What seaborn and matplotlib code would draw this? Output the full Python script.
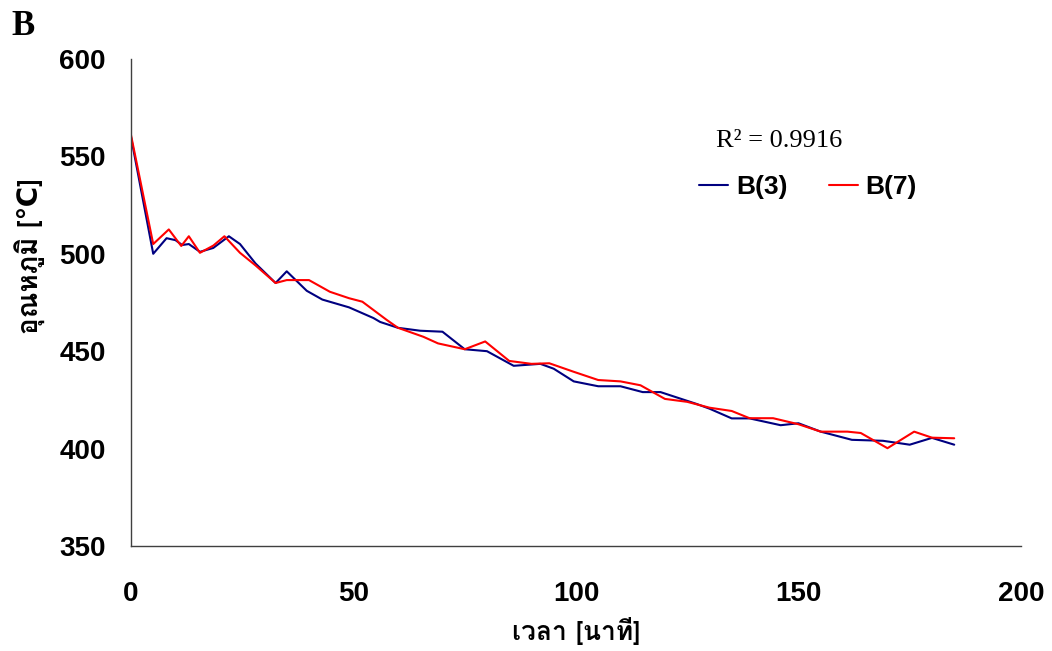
import numpy as np
import pandas as pd
import matplotlib
matplotlib.use("Agg")
import matplotlib.pyplot as plt
from matplotlib import font_manager, ft2font
import seaborn as sns

# Furnace temperature over time for two runs
time_b3 = [0, 5, 8, 10, 11.5, 13, 15.5, 18.5, 22, 24.5, 28, 32.5, 35, 39.5, 43,
           49, 54.5, 56, 60, 65, 70, 75, 80, 86, 92, 95, 99.5, 105, 110, 115,
           119, 127, 130, 135, 139, 146, 150, 155, 162, 169, 175, 180, 185]
temp_b3 = [560, 500, 508, 507, 504.5, 505, 501, 503, 509, 505, 495, 485, 491, 481, 476.5,
           472.5, 467, 465, 462, 460.5, 460, 451, 450, 442.5, 443.5, 441, 434.5, 432, 432, 429,
           429, 423, 420.5, 415.5, 415.5, 412, 413, 408.7, 404.5, 404, 402, 405.5, 402]

time_b7 = [0, 5, 8.5, 11.3, 13, 15.5, 18.5, 21, 24.5, 28, 32.5, 35, 40, 44.7, 49,
           52, 57.5, 60, 65.7, 69, 75, 79.6, 85, 90, 94, 99.4, 105, 110, 114.5,
           120, 125, 130, 135, 139, 144.3, 150, 155, 161, 164, 170, 176, 180, 185]
temp_b7 = [561, 505, 512.5, 504, 509, 500.5, 504.2, 509, 500.5, 494, 485, 486.5, 486.5, 480.5, 477.2,
           475.4, 466, 462, 457.4, 454, 451, 455, 445, 443.5, 443.8, 439.5, 435.2, 434.5, 432.5,
           425.5, 424, 421, 419.3, 415.6, 415.6, 412.5, 408.7, 408.7, 408, 400.2, 408.7, 405.6, 405.3]

series_names = ["B(3)", "B(7)"]
series_colors = ["#000080", "#FF0000"]

x_ticks = [0, 50, 100, 150, 200]
y_ticks = [350, 400, 450, 500, 550, 600]

df = pd.concat([
    pd.DataFrame({"time": time_b3, "temp": temp_b3, "run": series_names[0]}),
    pd.DataFrame({"time": time_b7, "temp": temp_b7, "run": series_names[1]}),
], ignore_index=True)

sns.set_style("white")


def find_thai_font():
    for fe in font_manager.fontManager.ttflist:
        try:
            cmap = ft2font.FT2Font(fe.fname).get_charmap()
        except Exception:
            continue
        if 0x0E2D in cmap and 0x0E19 in cmap:
            return fe.name
    return None


thai = find_thai_font()
families = ["Liberation Sans", "DejaVu Sans"]
if thai:
    families = ["Liberation Sans", thai, "DejaVu Sans"]
plt.rcParams["font.family"] = families
plt.rcParams["axes.unicode_minus"] = False
plt.rcParams["text.color"] = "black"

fig = plt.figure(figsize=(10.52, 6.51), dpi=100)
ax = fig.add_axes([0.1245, 0.1613, 0.846, 0.7481])

sns.lineplot(data=df, x="time", y="temp", hue="run", palette=series_colors,
             hue_order=series_names, linewidth=1.5, ax=ax, sort=False,
             estimator=None)

ax.set_xlim(0, 200)
ax.set_ylim(350, 600)
ax.set_xticks(x_ticks)
ax.set_yticks(y_ticks)
ax.set_xticklabels([str(v) for v in x_ticks], fontsize=20, fontweight="bold", color="black")
ax.set_yticklabels([str(v) for v in y_ticks], fontsize=20, fontweight="bold", color="black")
ax.tick_params(axis="y", direction="out", length=7, width=1, pad=11, color="#404040")
ax.tick_params(axis="x", direction="out", length=8, width=1, pad=17, color="#404040")

for side in ["top", "right"]:
    ax.spines[side].set_visible(False)
for side in ["left", "bottom"]:
    ax.spines[side].set_color("#404040")
    ax.spines[side].set_linewidth(1)

label_fam = [thai, "DejaVu Sans"] if thai else ["DejaVu Sans"]
ax.set_xlabel("เวลา [นาที]", fontsize=19, fontweight="bold", family=label_fam, color="black")
ax.set_ylabel("อุณหภูมิ [℃]", fontsize=20, fontweight="bold", family=label_fam, color="black")
ax.xaxis.set_label_coords(0.5, -0.145)
ax.yaxis.set_label_coords(-0.097, 0.595)

ax.text(131.5, 554.8, "R² = 0.9916", fontsize=19, family="Liberation Serif",
        color="black", va="baseline")

leg = ax.legend(loc="center left", bbox_to_anchor=(0.612, 0.737), ncol=2, frameon=False,
                handlelength=1.1, handletextpad=0.3, columnspacing=1.55,
                prop={"size": 19, "weight": "bold", "family": "Liberation Sans"})
for line in leg.get_lines():
    line.set_linewidth(1.5)
for t in leg.get_texts():
    t.set_color("black")

fig.text(0.0105, 0.946, "B", fontsize=25, fontweight="bold", family="Liberation Serif",
         va="baseline", color="black")

fig.savefig("out.png", dpi=100, facecolor="white")
